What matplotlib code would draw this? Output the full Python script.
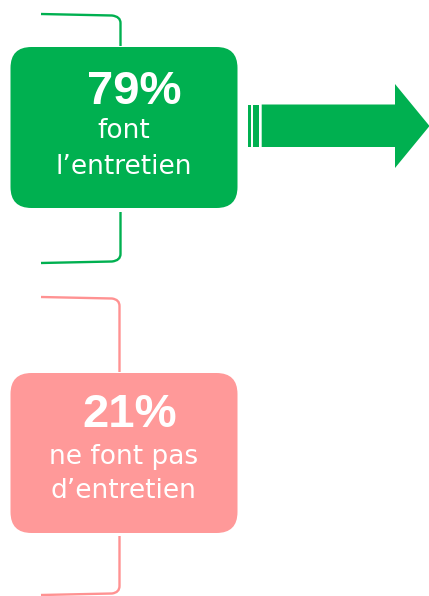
import matplotlib
matplotlib.use("Agg")
import matplotlib.pyplot as plt
from matplotlib.patches import FancyBboxPatch, Polygon, Rectangle, PathPatch
from matplotlib.path import Path

# ---- data ----
percentages = [79, 21]
line1 = ["font", "ne font pas"]
line2 = ["l\u2019entretien", "d\u2019entretien"]
box_colors = ["#00B050", "#FF9999"]
bracket_colors = ["#00B050", "#FF9292"]

W, H = 429, 596
fig = plt.figure(figsize=(W / 100, H / 100), dpi=100)
ax = fig.add_axes([0, 0, 1, 1])
ax.set_xlim(0, W)
ax.set_ylim(H, 0)
ax.axis("off")

layouts = [
    dict(top=47, bot=208, bx=120.5, t_y=14, t_end=46, b_start=212, b_y=263,
         pct_y=87, pct_x=134.5, l1_y=138, l2_y=174),
    dict(top=373, bot=533, bx=119.5, t_y=297, t_end=372, b_start=536, b_y=595,
         pct_y=410, pct_x=130, l1_y=464, l2_y=498),
]

for i, lay in enumerate(layouts):
    verts = [(41, lay["t_y"]), (112, lay["t_y"] + 1.5),
             (lay["bx"], lay["t_y"] + 2.5), (lay["bx"], lay["t_y"] + 9),
             (lay["bx"], lay["t_end"])]
    codes = [Path.MOVETO, Path.LINETO, Path.CURVE3, Path.CURVE3, Path.LINETO]
    ax.add_patch(PathPatch(Path(verts, codes), fill=False,
                           edgecolor=bracket_colors[i], lw=1.7, capstyle="butt"))
    verts = [(lay["bx"], lay["b_start"]), (lay["bx"], lay["b_y"] - 9),
             (lay["bx"], lay["b_y"] - 2.5), (112, lay["b_y"] - 1.5),
             (41, lay["b_y"])]
    codes = [Path.MOVETO, Path.LINETO, Path.CURVE3, Path.CURVE3, Path.LINETO]
    ax.add_patch(PathPatch(Path(verts, codes), fill=False,
                           edgecolor=bracket_colors[i], lw=1.7, capstyle="butt"))

    ax.add_patch(FancyBboxPatch((10.5, lay["top"]), 227, lay["bot"] - lay["top"],
                                boxstyle="round,pad=0,rounding_size=21",
                                facecolor=box_colors[i], edgecolor="none"))

    ax.text(lay["pct_x"], lay["pct_y"], f"{percentages[i]}%", color="white",
            fontsize=34, fontweight="bold", family="Liberation Sans",
            ha="center", va="center_baseline")
    ax.text(123.5, lay["l1_y"], line1[i], color="white", fontsize=19,
            family="DejaVu Sans", ha="center", va="baseline")
    ax.text(123.5, lay["l2_y"], line2[i], color="white", fontsize=19,
            family="DejaVu Sans", ha="center", va="baseline")

green = box_colors[0]
ax.add_patch(Rectangle((248.3, 104.5), 2.8, 42.5, facecolor=green, edgecolor="none"))
ax.add_patch(Rectangle((253.3, 104.5), 5.3, 42.5, facecolor=green, edgecolor="none"))
ax.add_patch(Polygon([(261.7, 104.5), (395, 104.5), (395, 84), (429.5, 126),
                      (395, 168), (395, 147), (261.7, 147)],
                     closed=True, facecolor=green, edgecolor="none"))

fig.savefig("out.png", dpi=100)
